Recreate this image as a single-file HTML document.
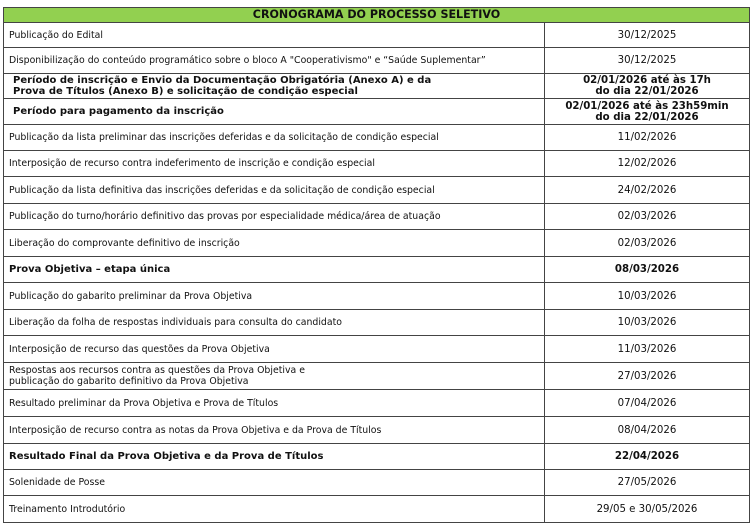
<!DOCTYPE html>
<html><head><meta charset="utf-8"><style>
body{margin:0;width:755px;height:529px;background:#fff;font-family:"DejaVu Sans","Liberation Sans",sans-serif;font-size:9.35px;color:#111;position:relative;overflow:hidden}
.r{position:absolute;left:3px;width:747px;border:1px solid #444;border-top:none;box-sizing:border-box}
.l{position:absolute;left:0;top:0;bottom:0;width:541px;border-right:1px solid #444;display:flex;align-items:center;padding-left:5px;box-sizing:border-box;line-height:11px}
.d{position:absolute;left:541px;right:0;top:0;bottom:0;display:flex;align-items:center;justify-content:center;text-align:center;line-height:11px;font-size:10.2px}
.b{font-weight:bold}
.l.b{font-size:10px}
.h{position:absolute;left:3px;top:7px;width:747px;height:16px;background:#92d050;border:1px solid #444;box-sizing:border-box;font-weight:bold;text-align:center;line-height:14px;font-size:11.1px}
</style></head><body>
<div class="h">CRONOGRAMA DO PROCESSO SELETIVO</div>
<div class="r" style="top:23px;height:25px"><div class="l">Publicação do Edital</div><div class="d">30/12/2025</div></div>
<div class="r" style="top:48px;height:26px"><div class="l">Disponibilização do conteúdo programático sobre o bloco A "Cooperativismo" e “Saúde Suplementar”</div><div class="d">30/12/2025</div></div>
<div class="r" style="top:74px;height:25px"><div class="l b" style="padding-left:9px">Período de inscrição e Envio da Documentação Obrigatória (Anexo A) e da<br>Prova de Títulos (Anexo B) e solicitação de condição especial</div><div class="d b">02/01/2026 até às 17h<br>do dia 22/01/2026</div></div>
<div class="r" style="top:99px;height:26px"><div class="l b" style="padding-left:9px">Período para pagamento da inscrição</div><div class="d b">02/01/2026 até às 23h59min<br>do dia 22/01/2026</div></div>
<div class="r" style="top:125px;height:26px"><div class="l">Publicação da lista preliminar das inscrições deferidas e da solicitação de condição especial</div><div class="d">11/02/2026</div></div>
<div class="r" style="top:151px;height:26px"><div class="l">Interposição de recurso contra indeferimento de inscrição e condição especial</div><div class="d">12/02/2026</div></div>
<div class="r" style="top:177px;height:27px"><div class="l">Publicação da lista definitiva das inscrições deferidas e da solicitação de condição especial</div><div class="d">24/02/2026</div></div>
<div class="r" style="top:204px;height:26px"><div class="l">Publicação do turno/horário definitivo das provas por especialidade médica/área de atuação</div><div class="d">02/03/2026</div></div>
<div class="r" style="top:230px;height:27px"><div class="l">Liberação do comprovante definitivo de inscrição</div><div class="d">02/03/2026</div></div>
<div class="r" style="top:257px;height:26px"><div class="l b">Prova Objetiva – etapa única</div><div class="d b">08/03/2026</div></div>
<div class="r" style="top:283px;height:27px"><div class="l">Publicação do gabarito preliminar da Prova Objetiva</div><div class="d">10/03/2026</div></div>
<div class="r" style="top:310px;height:26px"><div class="l">Liberação da folha de respostas individuais para consulta do candidato</div><div class="d">10/03/2026</div></div>
<div class="r" style="top:336px;height:27px"><div class="l">Interposição de recurso das questões da Prova Objetiva</div><div class="d">11/03/2026</div></div>
<div class="r" style="top:363px;height:27px"><div class="l">Respostas aos recursos contra as questões da Prova Objetiva e<br>publicação do gabarito definitivo da Prova Objetiva</div><div class="d">27/03/2026</div></div>
<div class="r" style="top:390px;height:27px"><div class="l">Resultado preliminar da Prova Objetiva e Prova de Títulos</div><div class="d">07/04/2026</div></div>
<div class="r" style="top:417px;height:27px"><div class="l">Interposição de recurso contra as notas da Prova Objetiva e da Prova de Títulos</div><div class="d">08/04/2026</div></div>
<div class="r" style="top:444px;height:26px"><div class="l b">Resultado Final da Prova Objetiva e da Prova de Títulos</div><div class="d b">22/04/2026</div></div>
<div class="r" style="top:470px;height:26px"><div class="l">Solenidade de Posse</div><div class="d">27/05/2026</div></div>
<div class="r" style="top:496px;height:27px"><div class="l">Treinamento Introdutório</div><div class="d">29/05 e 30/05/2026</div></div>
</body></html>
